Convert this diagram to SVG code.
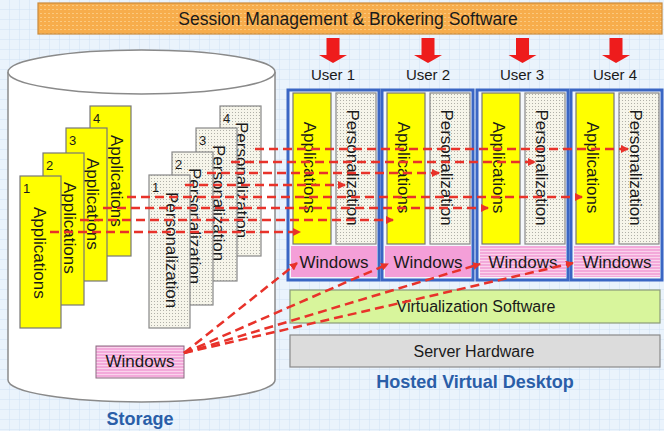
<svg xmlns="http://www.w3.org/2000/svg" width="664" height="431" viewBox="0 0 664 431">
<defs>
<pattern id="grid" width="10" height="10" patternUnits="userSpaceOnUse">
<rect width="10" height="10" fill="#eaf3fc"/>
<path d="M10 0V10M0 10H10" stroke="#d0e2f4" stroke-width="1"/>
</pattern>
<pattern id="dots" width="3" height="3" patternUnits="userSpaceOnUse">
<rect width="3" height="3" fill="#f6f5ea"/>
<rect x="1" y="1" width="1" height="1" fill="#b0b0a8"/>
</pattern>
<pattern id="orange" width="4" height="4" patternUnits="userSpaceOnUse">
<rect width="4" height="4" fill="#f7ad4c"/>
<rect x="0" y="1" width="2" height="1" fill="#fbc97e"/>
</pattern>
<pattern id="stripes" width="4" height="3" patternUnits="userSpaceOnUse">
<rect width="4" height="3" fill="#f3a9da"/>
<rect y="2" width="4" height="1" fill="#fad3ec"/>
</pattern>
<marker id="ah" markerWidth="8" markerHeight="8" refX="7" refY="4" orient="auto" markerUnits="userSpaceOnUse">
<path d="M0 0L8 4L0 8Z" fill="#e8322a"/>
</marker>
</defs>
<style>
text{font-family:"Liberation Sans",Arial,sans-serif;fill:#1a1a1a}
.lbl{font-size:17px}
.num{font-size:13px}
.title{font-size:18px;font-weight:bold;fill:#2a5ea8;text-anchor:middle}
.app{fill:#ffff00;stroke:#777;stroke-width:1.2}
.per{fill:url(#dots);stroke:#888;stroke-width:1.2}
.panel{fill:#f4f7fb;stroke:#3a66c4;stroke-width:3}
.win{fill:#f49fd8}
.winS{fill:url(#stripes)}
.dash{fill:none;stroke:#e8322a;stroke-width:2.5;stroke-dasharray:9 5;marker-end:url(#ah)}
.red{fill:#ee1c1c}
</style>
<rect width="664" height="431" fill="url(#grid)"/>

<g id="broker">
<rect x="38" y="3" width="624" height="31" fill="url(#orange)" stroke="#c98a3c" stroke-width="1.2"/>
<text x="348" y="25" font-size="17.5" text-anchor="middle">Session Management &amp; Brokering Software</text>
</g>

<g id="storage">
<path d="M8 72V380A133.5 22 0 0 0 275 380V72" fill="#ffffff" stroke="#8a8a8a" stroke-width="1.5"/>
<ellipse cx="141.5" cy="72" rx="133.5" ry="22" fill="#ffffff" stroke="#8a8a8a" stroke-width="1.5"/>
<text class="title" x="140" y="425">Storage</text>
</g>

<g id="app-card-4">
<rect class="app" x="90" y="106" width="41" height="150"/>
<text class="num" x="93" y="123">4</text>
<text class="lbl" transform="translate(111 135) rotate(90)">Applications</text>
</g>
<g id="app-card-3">
<rect class="app" x="66" y="128" width="41" height="153"/>
<text class="num" x="69" y="145">3</text>
<text class="lbl" transform="translate(87 158) rotate(90)">Applications</text>
</g>
<g id="app-card-2">
<rect class="app" x="43" y="153" width="41" height="152"/>
<text class="num" x="46" y="170">2</text>
<text class="lbl" transform="translate(64 182) rotate(90)">Applications</text>
</g>
<g id="app-card-1">
<rect class="app" x="20" y="176" width="41" height="152"/>
<text class="num" x="23" y="193">1</text>
<text class="lbl" transform="translate(34 207) rotate(90)">Applications</text>
</g>

<g id="pers-card-4">
<rect class="per" x="220" y="106" width="41" height="150"/>
<text class="num" x="223" y="123">4</text>
<text class="lbl" transform="translate(236 122) rotate(90)">Personalization</text>
</g>
<g id="pers-card-3">
<rect class="per" x="196" y="128" width="41" height="153"/>
<text class="num" x="199" y="145">3</text>
<text class="lbl" transform="translate(213 145) rotate(90)">Personalization</text>
</g>
<g id="pers-card-2">
<rect class="per" x="172" y="152" width="41" height="153"/>
<text class="num" x="175" y="169">2</text>
<text class="lbl" transform="translate(189 168) rotate(90)">Personalization</text>
</g>
<g id="pers-card-1">
<rect class="per" x="149" y="175" width="41" height="153"/>
<text class="num" x="152" y="192">1</text>
<text class="lbl" transform="translate(166 192) rotate(90)">Personalization</text>
</g>

<g id="storage-windows">
<rect x="96" y="346" width="88" height="32" fill="url(#stripes)" stroke="#8a6a80" stroke-width="1"/>
<text class="lbl" x="140" y="367" text-anchor="middle">Windows</text>
</g>

<g id="user1">
<path class="red" d="M326.5 38H339.5V55H347L333 63L319 55H326.5Z"/>
<text x="333" y="80" font-size="15" text-anchor="middle">User 1</text>
<rect class="panel" x="288" y="90" width="91" height="190"/>
<rect class="app" x="293" y="93" width="38" height="151"/>
<rect class="per" x="336" y="93" width="40" height="151"/>
<rect class="win" x="291" y="246" width="86" height="31"/>
<text class="lbl" transform="translate(304 167.5) rotate(90)" text-anchor="middle">Applications</text>
<text class="lbl" transform="translate(347 167.5) rotate(90)" text-anchor="middle">Personalization</text>
<text class="lbl" x="334" y="268" text-anchor="middle">Windows</text>
</g>
<g id="user2">
<path class="red" d="M421.5 38H434.5V55H442L428 63L414 55H421.5Z"/>
<text x="428" y="80" font-size="15" text-anchor="middle">User 2</text>
<rect class="panel" x="382" y="90" width="91" height="190"/>
<rect class="app" x="387" y="93" width="38" height="151"/>
<rect class="per" x="430" y="93" width="40" height="151"/>
<rect class="win" x="385" y="246" width="86" height="31"/>
<text class="lbl" transform="translate(398 167.5) rotate(90)" text-anchor="middle">Applications</text>
<text class="lbl" transform="translate(441 167.5) rotate(90)" text-anchor="middle">Personalization</text>
<text class="lbl" x="428" y="268" text-anchor="middle">Windows</text>
</g>
<g id="user3">
<path class="red" d="M516 38H529V55H536.5L522.5 63L508.5 55H516Z"/>
<text x="522" y="80" font-size="15" text-anchor="middle">User 3</text>
<rect class="panel" x="477" y="90" width="91" height="190"/>
<rect class="app" x="482" y="93" width="38" height="151"/>
<rect class="per" x="525" y="93" width="40" height="151"/>
<rect class="winS" x="480" y="246" width="86" height="31"/>
<text class="lbl" transform="translate(493 167.5) rotate(90)" text-anchor="middle">Applications</text>
<text class="lbl" transform="translate(536 167.5) rotate(90)" text-anchor="middle">Personalization</text>
<text class="lbl" x="523" y="268" text-anchor="middle">Windows</text>
</g>
<g id="user4">
<path class="red" d="M609.5 38H622.5V55H630L616 63L602 55H609.5Z"/>
<text x="615" y="80" font-size="15" text-anchor="middle">User 4</text>
<rect class="panel" x="571" y="90" width="91" height="190"/>
<rect class="app" x="576" y="93" width="38" height="151"/>
<rect class="per" x="619" y="93" width="40" height="151"/>
<rect class="winS" x="574" y="246" width="86" height="31"/>
<text class="lbl" transform="translate(587 167.5) rotate(90)" text-anchor="middle">Applications</text>
<text class="lbl" transform="translate(630 167.5) rotate(90)" text-anchor="middle">Personalization</text>
<text class="lbl" x="617" y="268" text-anchor="middle">Windows</text>
</g>

<g id="virtualization">
<rect x="290" y="290" width="370" height="33" fill="#d8f59c" stroke="#8a9a7a" stroke-width="1.2"/>
<text x="476" y="312" font-size="16" text-anchor="middle">Virtualization Software</text>
</g>
<g id="hardware">
<rect x="290" y="335" width="370" height="32" fill="#dcdcdc" stroke="#8a8a8a" stroke-width="1.2"/>
<text x="474" y="357" font-size="16" text-anchor="middle">Server Hardware</text>
<text class="title" x="475" y="388">Hosted Virtual Desktop</text>
</g>

<g id="connectors">
<path class="dash" d="M50 232H300"/>
<path class="dash" d="M80 220H393"/>
<path class="dash" d="M103 208H488"/>
<path class="dash" d="M127 197H582"/>
<path class="dash" d="M185 185H345"/>
<path class="dash" d="M207 173H439"/>
<path class="dash" d="M231 162H535"/>
<path class="dash" d="M255 149H628"/>
<path class="dash" d="M184 353L297 263"/>
<path class="dash" d="M184 353L388 264"/>
<path class="dash" d="M184 353L480 264"/>
<path class="dash" d="M184 353L573 263"/>
</g>
</svg>
